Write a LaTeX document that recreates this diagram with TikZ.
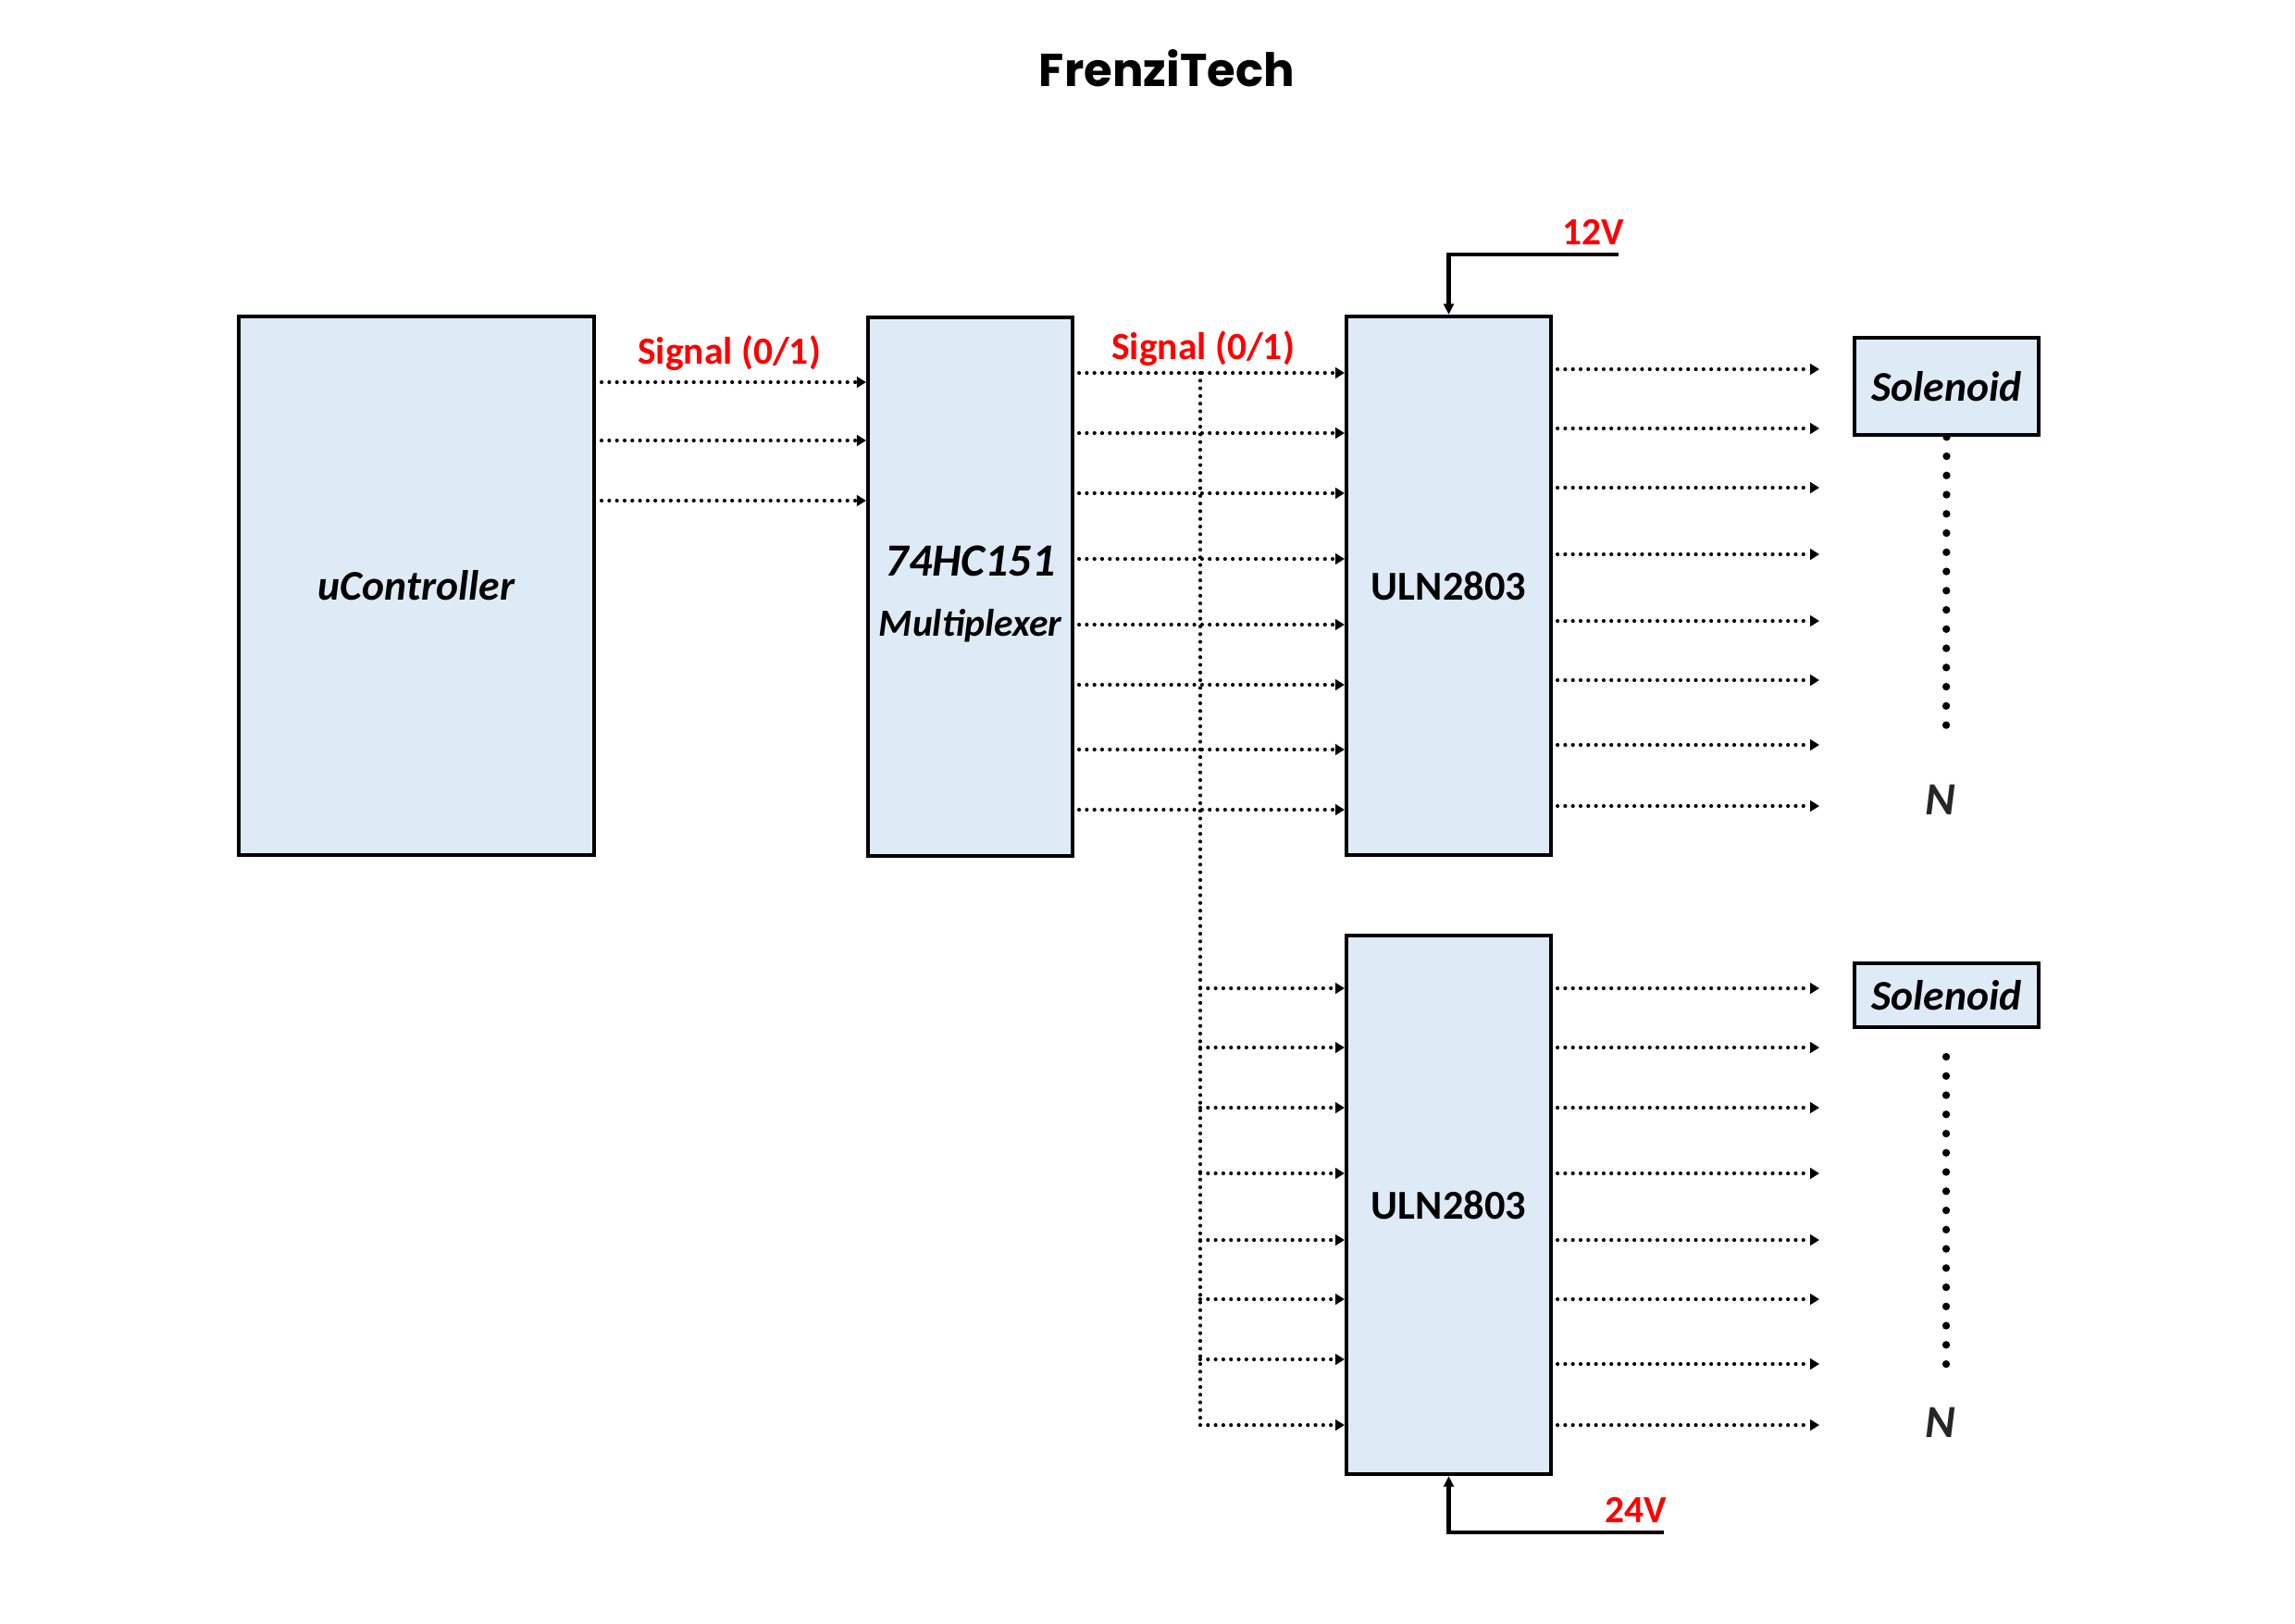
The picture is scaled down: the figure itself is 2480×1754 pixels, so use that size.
\documentclass[tikz,border=0pt]{standalone}
\usepackage{fontspec}
\setmainfont{Carlito}
\newfontfamily\titlefont{Poppins}
\usepackage{tikz}
\usetikzlibrary{arrows.meta}
\definecolor{boxblue}{HTML}{DEEBF7}
\definecolor{sigred}{HTML}{FF0000}

\tikzset{
  blk/.style={draw=black, line width=1pt, fill=boxblue, inner sep=0pt, minimum height=49.28mm},
  solbox/.style={draw=black, line width=1.1pt, fill=boxblue, inner sep=0pt, minimum width=16.85mm,
                 font=\bfseries\itshape\fontsize{11}{13}\selectfont},
  sigline/.style={line width=1pt, line cap=round, dash pattern=on 0pt off 2pt},
  sig/.style={sigline, -{Triangle[length=2.4pt,width=2.8pt]}},
  pwr/.style={line width=1pt, -{Triangle[length=2.8pt,width=2.6pt]}},
  redlbl/.style={text=sigred, font=\bfseries\fontsize{10}{12}\selectfont},
  soldots/.style={line width=2pt, line cap=round, dash pattern=on 0pt off 5pt},
  nlbl/.style={text=black!85, font=\bfseries\itshape\fontsize{12}{14}\selectfont}
}

\begin{document}
\begin{tikzpicture}[x=0.0846667mm, y=-0.0846667mm]
    \useasboundingbox (0,0) rectangle (2480,1754);

    % Baslik
    \node[font=\titlefont\bfseries\fontsize{12}{14}\selectfont] (title) at (1261,74) {FrenziTech};

    % Bloklar
    \node[blk, minimum width=32.51mm, font=\bfseries\itshape\fontsize{11}{13}\selectfont] (uc) at (450,633) {uController};
    \node[blk, minimum width=18.71mm,
          label={[align=center, font=\bfseries\itshape, yshift=-1.9pt]center:{\fontsize{12}{14}\selectfont 74HC151}\\[3.7pt]{\fontsize{10}{12}\selectfont Multiplexer}}]
          (mux) at (1048.5,634) {};
    \node[blk, minimum width=18.71mm, font=\bfseries\fontsize{10.7}{13}\selectfont] (ulnA) at (1565.5,633) {ULN2803};
    \node[blk, minimum width=18.71mm, font=\bfseries\fontsize{10.7}{13}\selectfont] (ulnB) at (1565.5,1302) {ULN2803};
    \node[solbox, minimum height=8.89mm] (solA) at (2103.5,417.5) {Solenoid};
    \node[solbox, minimum height=5.84mm] (solB) at (2103.5,1075.5) {Solenoid};

    % uController -> 74HC151
    \foreach \y in {413,476,541}
        \draw[sig] (uc.east |- 0,\y) ++(6,0) -- (mux.west |- 0,\y);
    \node[redlbl] (sigA) at (788,382) {Signal (0/1)};

    % 74HC151 -> ULN2803
    \foreach \y in {403,468,533,604,675,740,810,875}
        \draw[sig] (mux.east |- 0,\y) ++(5,0) -- (ulnA.west |- 0,\y);
    \node[redlbl] (sigB) at (1300,377) {Signal (0/1)};

    % ikinci ULN2803 icin dal
    \coordinate (bus) at (1297,403);
    \coordinate (busend) at (1297,1540);
    \draw[sigline] (bus) -- (busend);
    \foreach \y in {1068,1132,1197,1268,1340,1404,1469,1540}
        \draw[sig] (bus |- 0,\y) -- (ulnB.west |- 0,\y);

    % ULN2803 cikislari
    \coordinate (tips) at (1966,0);
    \foreach \y in {399,463,527,599,671,735,805,871}
        \draw[sig] (ulnA.east |- 0,\y) ++(5,0) -- (tips |- 0,\y);
    \foreach \y in {1068,1132,1197,1268,1340,1404,1474,1540}
        \draw[sig] (ulnB.east |- 0,\y) ++(5,0) -- (tips |- 0,\y);

    % Solenoid sirasi
    \coordinate (dotsA) at (2103,802);
    \draw[soldots] (solA.south) -- (dotsA);
    \node[nlbl] (nA) at (2097,864) {N};
    \coordinate (dotsB0) at (2103,1142);
    \coordinate (dotsB) at (2103,1479);
    \draw[soldots] (dotsB0) -- (dotsB);
    \node[nlbl] (nB) at (2097,1537) {N};

    % Besleme
    \coordinate (v12) at (1749,275);
    \draw[pwr] (v12) -| (ulnA.north);
    \node[redlbl] (l12) at (1722,251) {12V};
    \coordinate (v24) at (1798,1656);
    \draw[pwr] (v24) -| (ulnB.south);
    \node[redlbl] (l24) at (1768,1632) {24V};
\end{tikzpicture}
\end{document}
